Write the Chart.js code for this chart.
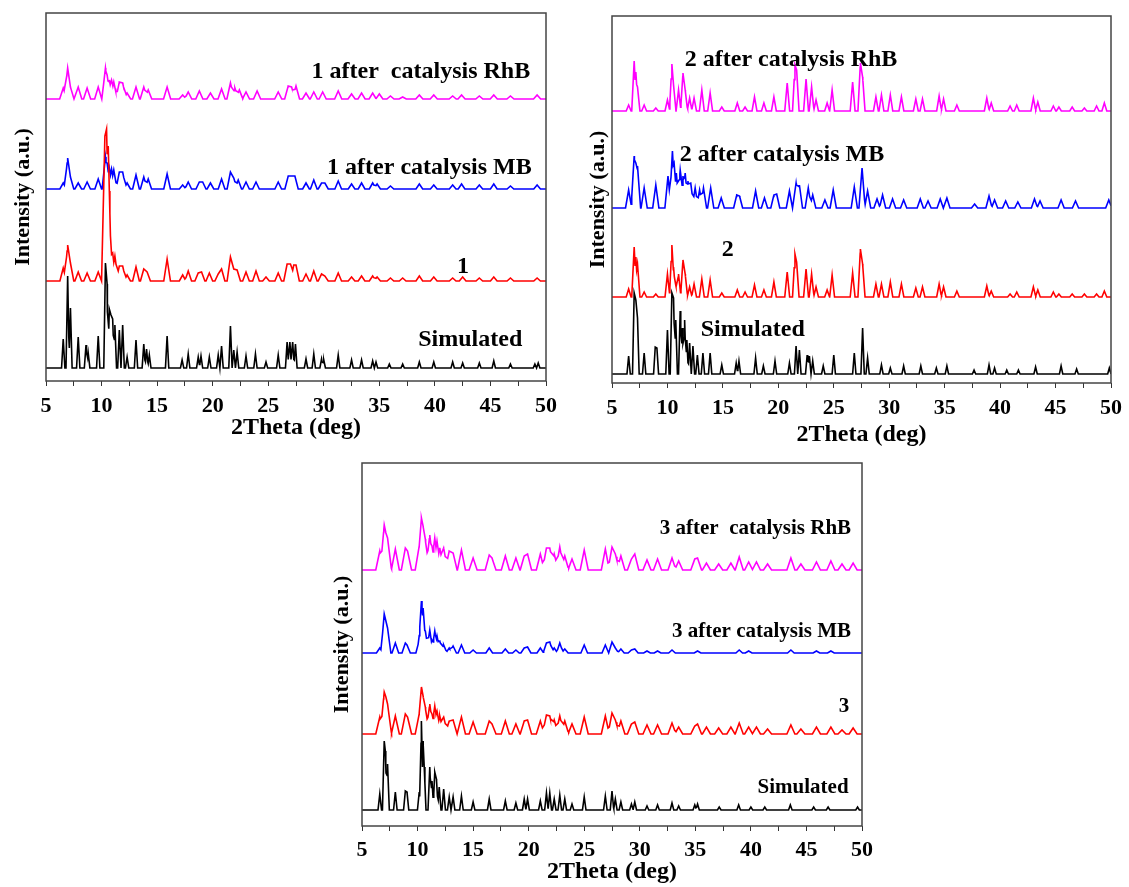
<!DOCTYPE html>
<html>
<head>
<meta charset="utf-8">
<title>PXRD patterns</title>
<script src="https://cdn.jsdelivr.net/npm/chart.js@4.4.1/dist/chart.umd.min.js"></script>
<style>
  html, body { margin: 0; padding: 0; background: #fff; width: 1129px; height: 887px; overflow: hidden; }
  .panel { position: absolute; }
</style>
</head>
<body>
<div class="panel" id="box1"><canvas id="c1"></canvas></div>
<div class="panel" id="box2"><canvas id="c2"></canvas></div>
<div class="panel" id="box3"><canvas id="c3"></canvas></div>
<script>
// ---- data ----
// each pattern is a list of [2theta, peak height above its own baseline]

const xTicks = [5, 10, 15, 20, 25, 30, 35, 40, 45, 50];
const colors = ['#000000', '#ff0000', '#0000ff', '#ff00ff'];

// panel 1
const names1 = ['Simulated', '1', '1 after catalysis MB', '1 after  catalysis RhB'];
const offsets1 = [13, 100, 192, 282];
const sim1 = [[6.55,29],[6.95,92],[7.2,60],[7.9,31],[8.6,23],[8.8,15],[9.7,32],[10.35,105],[10.5,84],[10.7,59],[10.85,53],[11.0,49],[11.2,43],[11.6,38],[11.9,43],[12.3,11],[13.1,28],[13.8,24],[14.05,19],[14.3,13],[15.9,32],[17.25,8],[17.8,14],[18.7,11],[18.95,12],[19.7,11],[20.5,13],[20.8,22],[21.6,42],[21.9,18],[22.2,16],[23.0,12],[23.85,14],[24.8,6],[25.9,13],[26.7,26],[26.95,26],[27.2,26],[27.45,24],[28.4,9],[29.1,14],[29.8,9],[30.0,8],[31.3,13],[32.5,8],[33.4,8],[34.4,7],[34.7,6],[35.9,4],[37.1,4],[38.6,6],[39.9,6],[41.6,6],[42.5,5],[44.0,5],[45.3,7],[46.8,4],[49.0,4],[49.3,5]];
const exp1 = [[6.55,13],[6.95,36],[7.2,18],[7.9,9],[8.7,8],[9.7,9],[10.3,145],[10.45,152],[10.6,135],[10.8,40],[11.0,28],[11.2,25],[11.6,15],[11.9,15],[12.3,6],[13.1,14],[13.8,12],[14.1,9],[15.9,22],[17.3,6],[17.8,10],[18.7,8],[19.0,9],[19.7,8],[20.5,7],[20.8,12],[21.6,24],[21.9,12],[22.2,11],[23.0,9],[23.9,10],[24.8,4],[25.9,8],[26.7,17],[27.0,17],[27.3,16],[27.5,16],[28.4,7],[29.1,10],[29.8,7],[30.1,5],[31.3,8],[32.5,4],[33.4,5],[34.4,5],[34.8,4],[36.0,3],[37.1,3],[38.6,5],[39.9,4],[41.6,3],[42.5,4],[44.0,3],[45.3,4],[46.8,3],[49.2,3]];
const mb1 = [[6.55,6],[6.95,31],[7.2,12],[7.9,6],[8.7,7],[9.7,10],[10.35,32],[10.5,26],[10.7,21],[10.9,20],[11.1,19],[11.6,17],[11.9,17],[12.3,6],[13.1,14],[13.8,12],[14.2,10],[15.9,15],[17.3,4],[17.8,7],[18.8,7],[19.1,7],[19.8,6],[20.8,10],[21.6,17],[21.9,11],[22.3,9],[23.0,7],[23.9,7],[25.9,7],[26.8,13],[27.1,13],[27.4,13],[28.4,6],[29.1,9],[29.8,6],[30.1,6],[31.3,8],[32.5,5],[33.4,6],[34.4,6],[34.8,5],[36.0,3],[38.6,5],[39.9,4],[41.6,4],[42.4,5],[44.0,4],[45.3,5],[46.8,3],[49.2,4]];
const rhb1 = [[6.55,11],[6.95,31],[7.2,12],[7.9,12],[8.7,11],[9.7,12],[10.35,31],[10.5,24],[10.7,19],[10.9,19],[11.1,17],[11.6,17],[11.9,16],[12.3,6],[13.1,12],[13.8,12],[14.2,9],[15.9,12],[17.3,4],[17.8,7],[18.8,8],[19.8,6],[20.8,10],[21.6,16],[22.0,11],[22.4,9],[23.0,7],[24.0,8],[25.9,7],[26.8,13],[27.1,12],[27.5,13],[28.4,6],[29.1,7],[29.9,7],[31.3,8],[32.5,5],[33.4,6],[34.4,6],[35.0,5],[36.0,3],[37.1,2],[38.6,4],[39.9,4],[41.6,3],[42.4,4],[44.0,3],[45.3,4],[46.8,3],[49.2,4]];

// panel 2
const names2 = ['Simulated', '2', '2 after catalysis MB', '2 after catalysis RhB'];
const offsets2 = [9, 86, 175, 272];
const sim2 = [[6.5,18],[7.0,81],[7.15,74],[7.3,56],[7.9,21],[8.9,27],[9.05,26],[10.0,44],[10.4,81],[10.55,76],[10.75,54],[11.15,63],[11.35,46],[11.55,54],[11.75,34],[12.0,31],[12.3,28],[12.7,19],[13.2,21],[13.85,21],[14.9,9],[16.2,11],[16.45,13],[17.95,16],[18.65,8],[19.7,13],[21.0,11],[21.6,28],[21.9,24],[22.6,19],[22.8,18],[23.1,13],[24.05,8],[25.0,19],[26.85,21],[27.6,46],[28.05,16],[29.3,9],[30.1,6],[31.3,8],[32.85,8],[34.25,6],[35.2,8],[37.65,4],[39.0,9],[39.5,6],[40.6,4],[41.65,4],[43.2,7],[45.5,8],[46.9,5],[49.85,6]];
const exp2 = [[6.5,8],[7.0,50],[7.15,40],[7.3,33],[7.9,5],[8.95,3],[10.0,23],[10.4,52],[10.55,30],[10.75,12],[11.0,23],[11.4,37],[11.6,23],[12.0,10],[12.4,13],[13.1,18],[13.85,17],[14.9,4],[16.3,7],[17.0,5],[17.85,12],[18.7,7],[19.6,15],[20.8,25],[21.5,43],[21.65,35],[22.5,28],[23.0,23],[23.4,10],[24.4,7],[24.85,22],[26.7,24],[27.4,48],[27.6,33],[28.8,13],[29.3,13],[30.1,15],[31.1,13],[32.4,9],[33.0,10],[34.5,13],[34.9,10],[36.1,6],[38.8,11],[39.2,6],[40.9,3],[41.5,5],[43.0,10],[43.4,7],[44.8,5],[45.3,3],[46.5,3],[47.6,3],[48.7,3],[49.4,6]];
const mb2 = [[6.5,18],[7.0,52],[7.15,45],[7.3,42],[7.9,20],[8.95,23],[10.05,32],[10.45,57],[10.6,45],[10.8,35],[11.15,38],[11.4,32],[11.6,35],[11.85,27],[12.1,25],[12.5,20],[12.9,18],[13.25,20],[13.9,20],[14.85,10],[16.25,13],[16.5,12],[17.95,17],[18.75,10],[19.6,13],[19.85,14],[21.0,17],[21.6,25],[21.9,23],[22.7,20],[23.1,13],[24.2,8],[24.95,18],[26.85,21],[27.55,40],[28.05,17],[28.9,9],[29.4,13],[30.3,9],[31.3,8],[32.8,9],[33.5,7],[34.6,9],[35.2,10],[37.7,4],[39.0,12],[39.5,8],[40.5,7],[41.6,6],[43.1,9],[43.6,7],[45.5,8],[46.8,7],[49.8,8]];
const rhb2 = [[6.5,6],[7.0,50],[7.15,39],[7.3,24],[7.9,6],[8.95,3],[10.0,11],[10.4,47],[10.55,26],[11.0,21],[11.4,38],[11.6,21],[12.0,13],[12.4,13],[13.1,21],[13.85,18],[14.9,4],[16.3,8],[17.0,4],[17.85,14],[18.7,8],[19.6,14],[20.8,28],[21.5,46],[21.65,41],[22.5,32],[23.0,24],[23.4,11],[24.4,8],[24.85,21],[26.7,29],[27.4,48],[27.6,34],[28.8,14],[29.3,16],[30.1,16],[31.1,14],[32.4,12],[33.0,12],[34.5,15],[34.9,12],[36.1,6],[38.8,13],[39.2,8],[40.9,5],[41.5,6],[43.0,13],[43.4,9],[44.8,5],[45.3,4],[46.5,4],[47.6,3],[48.7,5],[49.4,8]];

// panel 3
const names3 = ['Simulated', '3', '3 after catalysis MB', '3 after  catalysis RhB'];
const offsets3 = [16, 92, 173, 256];
const sim3 = [[6.6,16],[7.0,69],[7.1,59],[7.3,46],[8.0,18],[8.9,19],[9.05,18],[10.15,18],[10.35,89],[10.5,69],[10.6,43],[11.1,43],[11.3,29],[11.55,38],[11.7,31],[11.95,23],[12.35,21],[12.85,13],[13.2,13],[13.95,14],[15.0,8],[16.45,11],[17.9,9],[18.85,7],[19.6,11],[19.9,11],[21.05,9],[21.6,17],[21.9,17],[22.3,11],[22.8,15],[23.25,11],[23.9,6],[25.0,13],[26.9,14],[27.5,19],[27.8,11],[28.3,8],[29.25,6],[29.55,8],[30.65,4],[31.6,5],[32.9,7],[33.5,4],[34.95,5],[35.2,6],[37.15,3],[38.9,5],[40.0,3],[41.25,3],[43.55,5],[45.65,3],[46.95,3],[49.6,3]];
const exp3 = [[6.6,17],[7.0,42],[7.15,37],[7.3,30],[8.0,18],[8.9,20],[9.1,17],[10.15,20],[10.35,47],[10.5,38],[10.7,27],[11.1,30],[11.3,20],[11.55,28],[11.75,23],[12.0,18],[12.35,17],[12.85,13],[13.2,14],[13.95,17],[15.0,12],[16.45,13],[16.7,10],[17.9,13],[18.85,10],[19.6,13],[19.9,14],[21.05,13],[21.6,19],[21.9,18],[22.3,14],[22.8,18],[23.25,13],[23.9,10],[25.0,17],[26.9,18],[27.5,21],[27.8,14],[28.3,13],[29.25,10],[29.55,12],[30.65,9],[31.6,9],[32.9,11],[33.5,7],[34.95,8],[35.2,10],[36.0,7],[37.1,6],[38.2,7],[38.95,11],[39.8,7],[40.5,7],[41.5,5],[43.6,9],[44.5,5],[45.9,7],[47.2,7],[48.2,4],[49.2,6]];
const mb3 = [[6.6,5],[7.0,39],[7.15,32],[7.3,25],[8.0,10],[8.9,10],[9.05,8],[10.15,13],[10.35,52],[10.5,45],[10.7,22],[11.1,23],[11.3,13],[11.55,22],[11.75,17],[12.0,12],[12.35,8],[12.85,5],[13.2,7],[13.95,8],[15.0,3],[16.45,5],[17.9,4],[18.85,3],[19.6,5],[19.9,6],[21.05,5],[21.6,10],[21.9,11],[22.3,5],[22.8,10],[23.25,4],[25.0,8],[26.9,8],[27.5,11],[27.8,5],[28.3,4],[29.25,3],[29.55,4],[30.65,2],[31.6,2],[32.9,3],[35.2,2],[38.95,3],[39.8,2],[43.6,3],[45.9,2],[47.2,2]];
const rhb3 = [[6.6,19],[7.0,45],[7.15,37],[7.3,32],[8.0,21],[8.9,22],[9.1,19],[10.15,24],[10.35,52],[10.5,44],[10.7,31],[11.1,35],[11.3,24],[11.55,32],[11.75,29],[12.0,22],[12.35,22],[12.85,19],[13.2,17],[13.95,20],[15.0,12],[16.45,15],[16.7,12],[17.9,14],[18.85,12],[19.6,14],[19.9,16],[21.05,16],[21.6,22],[21.9,22],[22.3,16],[22.8,23],[23.25,14],[23.9,11],[25.0,20],[26.9,21],[27.5,23],[27.8,16],[28.3,14],[29.25,11],[29.55,16],[30.65,10],[31.6,11],[32.9,12],[33.5,9],[34.95,11],[35.2,12],[36.0,7],[37.1,6],[38.2,7],[38.95,13],[39.8,8],[40.5,8],[41.5,6],[43.6,12],[44.5,6],[45.9,8],[47.2,9],[48.2,6],[49.2,7]];

// ---- helpers ----

Chart.defaults.font.family = '"Liberation Serif", "Times New Roman", serif';
Chart.defaults.color = '#000';

const Y_W = 40; // width kept for the y axis title

// peaks -> line points, each peak drawn as a triangle of half width w
function trace(peaks, base, w) {
    let xs = [5, 50];
    peaks.forEach(p => xs.push(p[0] - w, p[0], p[0] + w));
    xs = xs.filter(x => x >= 5 && x <= 50).sort((a, b) => a - b);
    return xs.map(x => {
        let top = 0;
        peaks.forEach(p => {
            const d = 1 - Math.abs(x - p[0]) / w;
            if (d > 0) top = Math.max(top, p[1] * d);
        });
        return {x: x, y: base + top};
    });
}

const framePlugin = {
    id: 'frame',
    afterDatasetsDraw(chart) {
        const a = chart.chartArea;
        const ctx = chart.ctx;
        ctx.save();
        ctx.strokeStyle = '#444';
        ctx.lineWidth = 1.5;
        ctx.strokeRect(a.left, a.top, a.right - a.left, a.bottom - a.top);
        ctx.restore();
    }
};

const tagPlugin = {
    id: 'tags',
    afterDatasetsDraw(chart, args, opts) {
        const ctx = chart.ctx;
        const xs = chart.scales.x, ys = chart.scales.y;
        ctx.save();
        ctx.font = 'bold ' + opts.size + 'px "Liberation Serif", serif';
        ctx.fillStyle = '#000';
        ctx.textAlign = 'left';
        ctx.textBaseline = 'middle';
        opts.items.forEach(t => {
            ctx.fillText(t.text, xs.getPixelForValue(t.x), ys.getPixelForValue(t.y));
        });
        ctx.restore();
    }
};

function makePanel(id, geo, patterns, offsets, widths, names, tags, tagSize) {
    const box = document.getElementById('box' + id);
    box.style.left = geo.box[0] + 'px';
    box.style.top = geo.box[1] + 'px';
    box.style.width = geo.box[2] + 'px';
    box.style.height = geo.box[3] + 'px';

    const datasets = patterns.map((p, i) => ({
        label: names[i],
        data: trace(p, offsets[i], widths[i]),
        borderColor: colors[i],
        borderWidth: 1.6,
        pointRadius: 0,
        tension: 0,
        fill: false
    }));

    new Chart(document.getElementById('c' + id), {
        type: 'line',
        data: {datasets: datasets},
        options: {
            responsive: true,
            maintainAspectRatio: false,
            animation: false,
            layout: {
                padding: {
                    left: geo.left - Y_W - geo.box[0],
                    top: geo.top - geo.box[1],
                    right: geo.box[0] + geo.box[2] - geo.right,
                    bottom: geo.box[1] + geo.box[3] - (geo.bottom + geo.xh)
                }
            },
            plugins: {
                legend: {display: false},
                tooltip: {enabled: false},
                tags: {items: tags, size: tagSize}
            },
            scales: {
                x: {
                    type: 'linear',
                    min: 5,
                    max: 50,
                    afterFit: s => { s.height = geo.xh; },
                    border: {display: false},
                    grid: {display: true, drawOnChartArea: false, drawTicks: true, tickLength: 5, color: '#333'},
                    ticks: {
                        stepSize: 2.5,
                        autoSkip: false,
                        maxRotation: 0,
                        padding: geo.tickPad,
                        font: {size: 22, weight: 'bold'},
                        callback: v => xTicks.includes(v) ? v : ''
                    },
                    title: {display: true, text: '2Theta (deg)', font: {size: 24, weight: 'bold'}, padding: {top: 0, bottom: 0}}
                },
                y: {
                    min: 0,
                    max: geo.bottom - geo.top,
                    afterFit: s => { s.width = Y_W; },
                    border: {display: false},
                    grid: {display: false},
                    ticks: {display: false},
                    title: {
                        display: true,
                        text: 'Intensity (a.u.)',
                        font: {size: 22, weight: 'bold'},
                        padding: {top: geo.yTitleX - (geo.left - Y_W) - 13.2, bottom: 0}
                    }
                }
            }
        },
        plugins: [framePlugin, tagPlugin]
    });
}

// ---- panels ----

makePanel(1,
    {box: [0, 0, 565, 450], left: 46, right: 546, top: 13, bottom: 381, xh: 61, tickPad: 7, yTitleX: 23},
    [sim1, exp1, mb1, rhb1], offsets1, [0.15, 0.3, 0.3, 0.32], names1,
    [
        {text: '1 after  catalysis RhB', x: 28.9, y: 309},
        {text: '1 after catalysis MB', x: 30.3, y: 213},
        {text: '1', x: 42.0, y: 114},
        {text: 'Simulated', x: 38.5, y: 41}
    ], 24);

makePanel(2,
    {box: [565, 0, 564, 460], left: 612, right: 1113, top: 16, bottom: 383, xh: 66, tickPad: 7, yTitleX: 598},
    [sim2, exp2, mb2, rhb2], offsets2, [0.15, 0.22, 0.28, 0.22], names2,
    [
        {text: '2 after catalysis RhB', x: 11.56, y: 323},
        {text: '2 after catalysis MB', x: 11.1, y: 228},
        {text: '2', x: 14.9, y: 133},
        {text: 'Simulated', x: 13.0, y: 53}
    ], 24);

makePanel(3,
    {box: [320, 455, 570, 432], left: 362, right: 862, top: 463, bottom: 826, xh: 60, tickPad: 6, yTitleX: 342},
    [sim3, exp3, mb3, rhb3], offsets3, [0.16, 0.36, 0.3, 0.36], names3,
    [
        {text: '3 after  catalysis RhB', x: 31.8, y: 297},
        {text: '3 after catalysis MB', x: 32.9, y: 194},
        {text: '3', x: 47.9, y: 119},
        {text: 'Simulated', x: 40.6, y: 38}
    ], 21);
</script>
</body>
</html>
